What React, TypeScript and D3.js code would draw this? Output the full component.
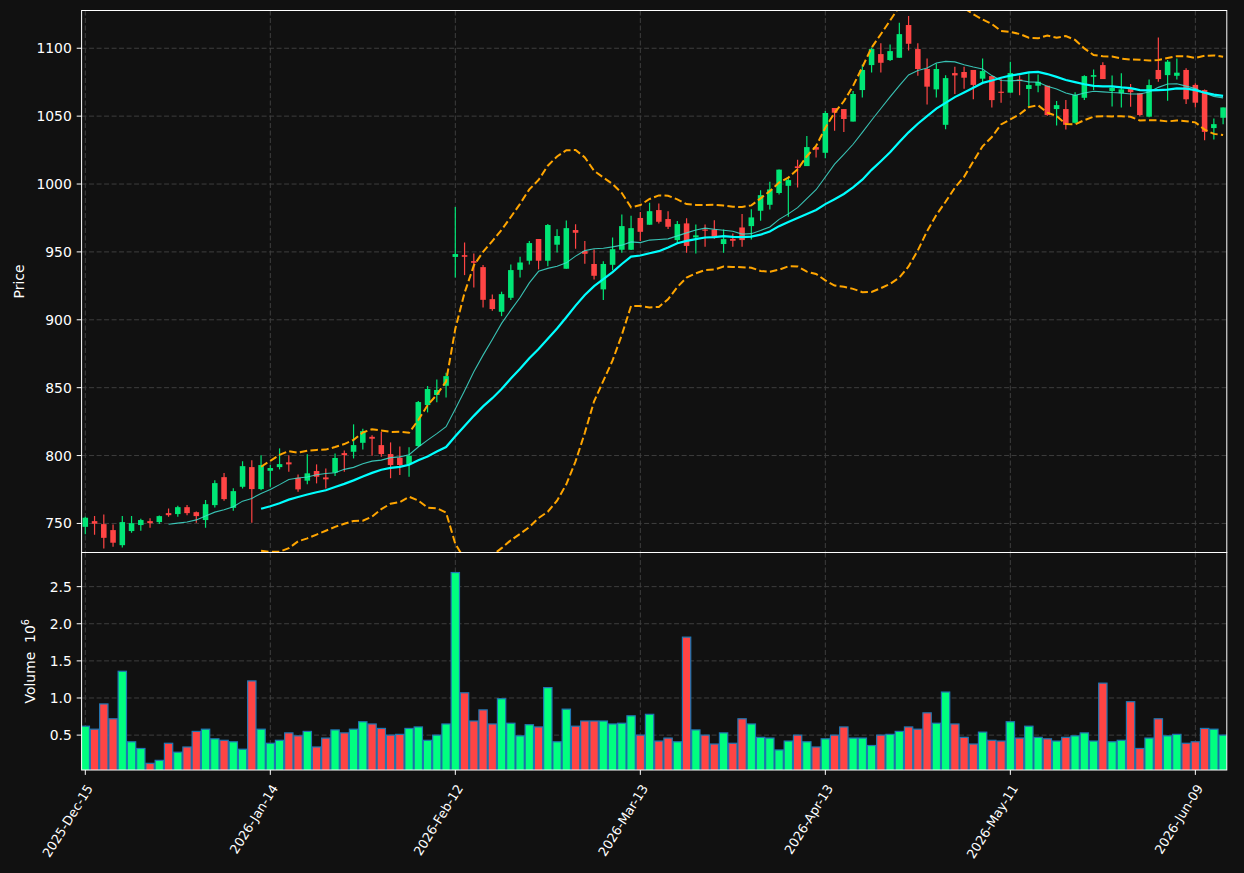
import React from 'react';
import * as d3 from 'd3';

const opens = [747.5,751.7,749.5,745.1,734.0,744.4,748.8,751.7,751.0,757.6,756.9,762.0,758.3,752.5,763.5,784.1,761.5,777.0,791.5,775.3,
788.8,791.5,795.0,783.6,781.5,788.6,783.9,787.4,801.8,802.8,809.4,813.8,807.7,801.1,798.4,793.7,807.0,837.2,844.6,851.4,
946.3,947.6,943.2,938.8,915.2,905.9,916.2,936.8,943.5,959.5,943.5,955.3,937.6,966.1,950.6,941.1,922.4,940.5,951.6,951.6,
975.0,970.0,980.8,974.2,958.7,971.0,960.7,966.5,966.5,955.8,959.6,968.0,969.0,980.3,984.7,993.4,998.7,1013.0,1013.2,1027.2,
1023.0,1056.0,1055.2,1046.0,1069.2,1087.6,1095.7,1091.3,1093.0,1117.1,1099.4,1084.7,1069.7,1043.6,1081.7,1082.5,1084.0,1077.6,1079.5,1068.0,
1067.3,1077.0,1070.0,1072.4,1072.4,1055.2,1055.2,1045.1,1063.5,1079.0,1087.6,1068.5,1066.8,1069.9,1066.8,1049.6,1084.0,1080.2,1079.7,1084.0,
1073.0,1069.2,1041.2,1048.8];
const highs = [754.9,755.4,756.6,749.3,755.4,755.4,753.4,753.9,755.9,761.0,763.0,763.5,758.8,767.2,781.9,787.1,776.0,795.9,796.6,800.3,
793.0,805.3,800.3,786.1,801.0,793.5,790.5,801.6,803.8,823.0,819.7,814.9,817.5,809.7,806.7,806.2,840.2,851.2,856.1,861.0,
983.0,957.0,948.8,940.3,918.6,920.7,940.8,946.4,958.0,959.5,970.5,966.6,973.2,970.3,958.0,951.8,943.2,960.6,977.6,976.6,
979.3,986.2,985.7,980.0,972.7,974.7,970.2,970.2,973.4,966.5,963.6,977.9,981.5,995.5,1001.7,1010.6,1004.9,1017.8,1035.3,1027.2,
1053.8,1056.0,1055.2,1068.5,1088.1,1100.6,1103.6,1102.8,1118.8,1123.7,1103.6,1092.5,1088.8,1080.2,1086.4,1086.4,1084.0,1092.5,1079.5,1077.8,
1090.1,1080.0,1081.5,1080.7,1072.4,1061.1,1061.8,1067.5,1080.2,1084.4,1089.6,1080.0,1081.5,1073.6,1066.8,1077.0,1108.0,1091.3,1092.5,1085.2,
1074.2,1069.7,1048.3,1056.4];
const lows = [742.1,741.7,731.6,732.8,732.3,743.1,744.6,746.8,749.5,754.9,754.9,756.1,750.5,746.8,761.8,766.7,759.3,775.8,750.5,774.5,
777.0,789.8,788.1,773.4,778.8,779.5,775.8,784.9,788.1,797.9,804.5,799.9,799.2,783.3,785.6,784.4,806.5,831.8,839.2,842.8,
931.2,932.9,923.8,909.1,906.7,902.7,914.5,931.2,940.8,937.1,939.5,949.6,937.6,952.3,941.3,929.7,914.5,936.6,949.4,951.4,
958.0,970.0,971.0,966.8,956.7,949.4,948.9,953.8,959.6,949.4,953.8,953.8,959.1,973.0,981.3,992.2,975.9,997.5,1013.2,1019.6,
1018.9,1039.3,1038.4,1046.0,1063.8,1082.2,1082.2,1090.6,1093.0,1098.4,1079.8,1058.6,1063.8,1040.4,1066.3,1070.2,1062.4,1074.7,1056.4,1059.9,
1067.3,1065.3,1056.4,1067.5,1050.3,1043.1,1040.2,1044.6,1061.8,1069.2,1077.3,1057.1,1056.4,1056.9,1050.0,1049.1,1075.3,1061.3,1077.0,1059.0,
1056.4,1032.3,1032.8,1044.0];
const closes = [754.2,749.8,739.4,735.8,751.0,750.2,752.5,750.2,755.4,756.1,762.0,757.6,755.4,764.2,779.7,767.9,773.8,792.2,775.3,793.0,
790.8,793.7,793.5,775.1,786.9,784.4,782.5,798.2,800.3,807.7,818.0,812.4,801.1,793.0,793.0,799.9,839.4,849.0,848.3,858.5,
948.4,946.4,942.0,914.7,907.9,918.9,936.6,942.2,956.5,943.5,969.8,961.7,967.5,964.1,948.6,932.4,941.1,952.0,969.0,967.5,
964.8,980.0,972.2,968.5,970.5,954.4,962.2,966.0,961.1,959.4,958.2,958.7,975.4,991.8,996.0,1010.6,1002.9,1011.8,1027.2,1025.3,
1052.3,1052.5,1047.9,1066.3,1084.0,1099.4,1089.3,1097.9,1110.4,1103.3,1084.7,1071.7,1084.7,1078.0,1080.0,1078.3,1073.0,1083.2,1061.8,1067.4,
1081.7,1075.8,1072.9,1075.3,1050.8,1058.1,1043.6,1065.5,1079.5,1080.2,1077.3,1070.9,1069.7,1067.7,1050.8,1072.9,1077.3,1090.1,1082.0,1062.4,
1059.9,1038.4,1044.1,1056.4];
// volume in millions
const volumes = [0.62,0.58,0.92,0.72,1.36,0.41,0.32,0.12,0.16,0.39,0.27,0.34,0.55,0.58,0.45,0.43,0.41,0.31,1.23,0.58,
0.39,0.43,0.53,0.49,0.55,0.34,0.46,0.57,0.53,0.58,0.68,0.65,0.59,0.50,0.51,0.59,0.61,0.43,0.50,0.65,
2.69,1.07,0.69,0.84,0.65,0.99,0.66,0.49,0.64,0.61,1.14,0.41,0.85,0.62,0.69,0.69,0.69,0.65,0.66,0.76,
0.50,0.78,0.42,0.46,0.41,1.82,0.57,0.50,0.38,0.53,0.39,0.72,0.65,0.47,0.46,0.30,0.42,0.50,0.41,0.34,
0.45,0.50,0.61,0.46,0.46,0.36,0.50,0.51,0.55,0.61,0.58,0.80,0.66,1.08,0.65,0.47,0.38,0.54,0.43,0.42,
0.68,0.46,0.62,0.47,0.45,0.42,0.47,0.49,0.53,0.42,1.20,0.41,0.43,0.95,0.32,0.46,0.72,0.49,0.51,0.39,
0.41,0.59,0.58,0.50];

const dateTickIndex = [0, 20, 40, 60, 80, 100, 120];
const dateTickLabels = ['2025-Dec-15', '2026-Jan-14', '2026-Feb-12', '2026-Mar-13', '2026-Apr-13', '2026-May-11', '2026-Jun-09'];
const priceTicks = [750, 800, 850, 900, 950, 1000, 1050, 1100];
const volumeTicks = [0.5, 1.0, 1.5, 2.0, 2.5];

function rollingMean(vals: number[], n: number): (number | null)[] {
  return vals.map((_, i) => (i < n - 1 ? null : (d3.mean(vals.slice(i - n + 1, i + 1)) as number)));
}
function rollingStd(vals: number[], n: number): (number | null)[] {
  return vals.map((_, i) => (i < n - 1 ? null : (d3.deviation(vals.slice(i - n + 1, i + 1)) as number)));
}

const W = 1244, H = 873;
const X0 = 81.6, X1 = 1226.8;
const PT = 10.5, PB = 552.5, VT = 552.5, VB = 770;
const FONT = 'DejaVu Sans, sans-serif';
const BG = '#111111';
const UP = '#00e676', DOWN = '#ff4444';
const VUP = '#00ff7f', VDOWN = '#ff4444';
const GRID = '#444444';

export default function App() {
  const n = closes.length;
  const x = d3.scaleLinear().domain([-0.4, n - 1 + 0.4]).range([X0, X1]);
  const yP = d3.scaleLinear().domain([728.6, 1127.8]).range([PB, PT]);
  const yV = d3.scaleLinear().domain([0.03, 2.96]).range([VB, VT]);
  const step = x(1) - x(0);

  const sma10 = rollingMean(closes, 10);
  const sma20 = rollingMean(closes, 20);
  const sd20 = rollingStd(closes, 20);
  const upper = sma20.map((m, i) => (m == null ? null : m + 2 * (sd20[i] as number)));
  const lower = sma20.map((m, i) => (m == null ? null : m - 2 * (sd20[i] as number)));

  const line = d3
    .line<number | null>()
    .defined((d) => d != null)
    .x((_, i) => x(i))
    .y((d) => yP(d as number));

  const bodyW = 0.6 * step;
  const volW = 0.9 * step;

  return (
    <svg width={W} height={H} style={{ position: 'absolute', left: 0, top: 0, background: BG }} fontFamily={FONT}>
      <defs>
        <clipPath id="clipP">
          <rect x={X0} y={PT} width={X1 - X0} height={PB - PT} />
        </clipPath>
        <clipPath id="clipV">
          <rect x={X0} y={VT} width={X1 - X0} height={VB - VT} />
        </clipPath>
      </defs>
      <rect x={0} y={0} width={W} height={H} fill={BG} />

      {/* grids */}
      <g stroke={GRID} strokeWidth={1} strokeDasharray="5,2.5" opacity={0.9}>
        {priceTicks.map((t) => (
          <line key={'gp' + t} x1={X0} x2={X1} y1={yP(t)} y2={yP(t)} />
        ))}
        {volumeTicks.map((t) => (
          <line key={'gv' + t} x1={X0} x2={X1} y1={yV(t)} y2={yV(t)} />
        ))}
        {dateTickIndex.map((t) => (
          <g key={'gx' + t}>
            <line x1={x(t)} x2={x(t)} y1={PT} y2={PB} />
            <line x1={x(t)} x2={x(t)} y1={VT} y2={VB} />
          </g>
        ))}
      </g>

      {/* candles */}
      <g clipPath="url(#clipP)">
        {closes.map((c, i) => {
          const o = opens[i];
          const col = c >= o ? UP : DOWN;
          const top = yP(Math.max(o, c));
          const bot = yP(Math.min(o, c));
          return (
            <g key={'c' + i}>
              <line x1={x(i)} x2={x(i)} y1={yP(highs[i])} y2={yP(lows[i])} stroke={col} strokeWidth={1.2} />
              <rect x={x(i) - bodyW / 2} y={top} width={bodyW} height={Math.max(bot - top, 1.2)} fill={col} />
            </g>
          );
        })}
        <path d={line(upper) || ''} fill="none" stroke="#ffa500" strokeWidth={2} strokeDasharray="7.5,3.3" />
        <path d={line(lower) || ''} fill="none" stroke="#ffa500" strokeWidth={2} strokeDasharray="7.5,3.3" />
        <path d={line(sma10) || ''} fill="none" stroke="#40e0d0" strokeWidth={1.1} opacity={0.85} />
        <path d={line(sma20) || ''} fill="none" stroke="#00ffff" strokeWidth={2.2} />
      </g>

      {/* volume */}
      <g clipPath="url(#clipV)">
        {volumes.map((v, i) => (
          <rect
            key={'v' + i}
            x={x(i) - volW / 2}
            y={yV(v)}
            width={volW}
            height={Math.max(VB + 5 - yV(v), 0)}
            fill={closes[i] >= opens[i] ? VUP : VDOWN}
            stroke="#1f77b4"
            strokeWidth={1.2}
          />
        ))}
      </g>

      {/* spines */}
      <g fill="none" stroke="#ffffff" strokeWidth={1}>
        <rect x={X0} y={PT} width={X1 - X0} height={PB - PT} />
        <rect x={X0} y={VT} width={X1 - X0} height={VB - VT} />
      </g>

      {/* ticks and labels */}
      <g fill="#ffffff" fontSize={13.9}>
        {priceTicks.map((t) => (
          <g key={'tp' + t}>
            <line x1={X0 - 4.9} x2={X0} y1={yP(t)} y2={yP(t)} stroke="#ffffff" strokeWidth={1} />
            <text x={X0 - 9.8} y={yP(t)} textAnchor="end" dominantBaseline="central">
              {t}
            </text>
          </g>
        ))}
        {volumeTicks.map((t) => (
          <g key={'tv' + t}>
            <line x1={X0 - 4.9} x2={X0} y1={yV(t)} y2={yV(t)} stroke="#ffffff" strokeWidth={1} />
            <text x={X0 - 9.8} y={yV(t)} textAnchor="end" dominantBaseline="central">
              {t.toFixed(1)}
            </text>
          </g>
        ))}
        {dateTickIndex.map((t, k) => (
          <g key={'tx' + t}>
            <line x1={x(t)} x2={x(t)} y1={VB} y2={VB + 4.9} stroke="#ffffff" strokeWidth={1} />
            <text
              transform={`translate(${x(t)},${VB + 13}) rotate(-58)`}
              textAnchor="end"
              dominantBaseline="hanging"
              fontSize={12.8}
            >
              {dateTickLabels[k]}
            </text>
          </g>
        ))}
        <text transform={`translate(24,${(PT + PB) / 2}) rotate(-90)`} textAnchor="middle">
          Price
        </text>
        <text transform={`translate(35,${(VT + VB) / 2}) rotate(-90)`} textAnchor="middle">
          Volume{'\u00a0\u00a0'}10
          <tspan fontSize={9.7} dy={-6}>
            6
          </tspan>
        </text>
      </g>
    </svg>
  );
}
